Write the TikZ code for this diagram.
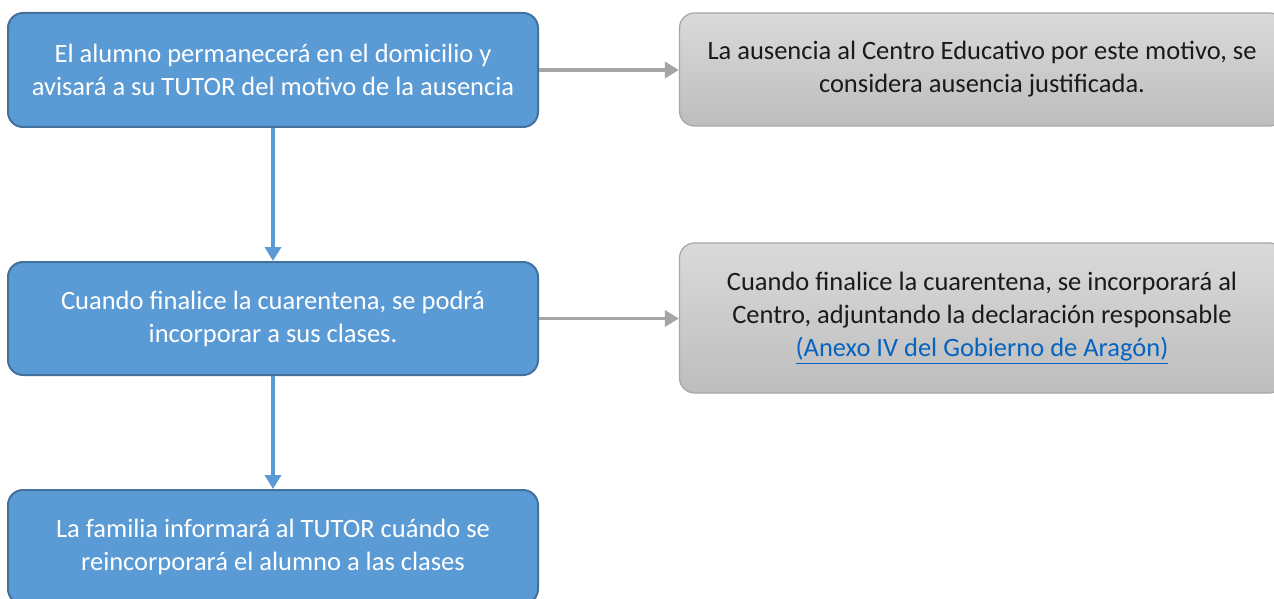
\documentclass[tikz,border=0pt]{standalone}
\usepackage{fontspec}
\setmainfont{Carlito}
\usetikzlibrary{arrows.meta}
\definecolor{bluefill}{HTML}{5B9BD5}
\definecolor{blueedge}{HTML}{41719C}
\definecolor{graytop}{HTML}{DADADA}
\definecolor{graybot}{HTML}{BDBDBD}
\definecolor{grayedge}{HTML}{A6A6A6}
\definecolor{grayarrow}{HTML}{A5A5A5}
\definecolor{linkblue}{HTML}{0563C1}
\definecolor{darktext}{HTML}{1A1A1A}
\tikzset{
  bluebox/.style={draw=blueedge, line width=2pt, fill=bluefill, rounded corners=15pt,
    minimum width=530pt, minimum height=114pt, text=white, align=center,
    font=\fontsize{26.5}{33}\selectfont, inner sep=0pt},
  graybox/.style={draw=grayedge, line width=1.2pt, top color=graytop, bottom color=graybot,
    rounded corners=15pt, minimum width=605pt, text=darktext, align=center,
    font=\fontsize{26.5}{33}\selectfont, inner sep=0pt},
  bluearrow/.style={draw=bluefill, line width=3.5pt, -{Triangle[length=14pt,width=16pt]}},
  grayarrow/.style={draw=grayarrow, line width=3.5pt, -{Triangle[length=14pt,width=16pt]}}
}
\begin{document}
\begin{tikzpicture}[x=1pt,y=1pt]
\useasboundingbox (0,0) rectangle (1274,-599);
\clip (0,0) rectangle (1274,-599);
\node[bluebox] (b1) at (273,-70) {El alumno permanecerá en el domicilio y\\avisará a su TUTOR del motivo de la ausencia};
\node[bluebox, minimum height=113pt] (b2) at (273,-318.5) {Cuando finalice la cuarentena, se podrá\\incorporar a sus clases.};
\node[bluebox] (b3) at (273,-547) {La familia informará al TUTOR cuándo se\\reincorporará el alumno a las clases};
\node[graybox, minimum height=113pt] (g1) at (982,-69.5) {La ausencia al Centro Educativo por este motivo, se\\considera ausencia justificada.};
\node[graybox, minimum height=150pt] (g2) at (982,-318) {Cuando finalice la cuarentena, se incorporará al\\Centro, adjuntando la declaración responsable\\\textcolor{linkblue}{\underline{(Anexo IV del Gobierno de Aragón)}}};
\draw[grayarrow] (b1.east) -- (g1.west |- b1.east);
\draw[grayarrow] (b2.east) -- (g2.west |- b2.east);
\draw[bluearrow] (b1.south) -- (b2.north);
\draw[bluearrow] (b2.south) -- (b3.north);
\end{tikzpicture}
\end{document}
